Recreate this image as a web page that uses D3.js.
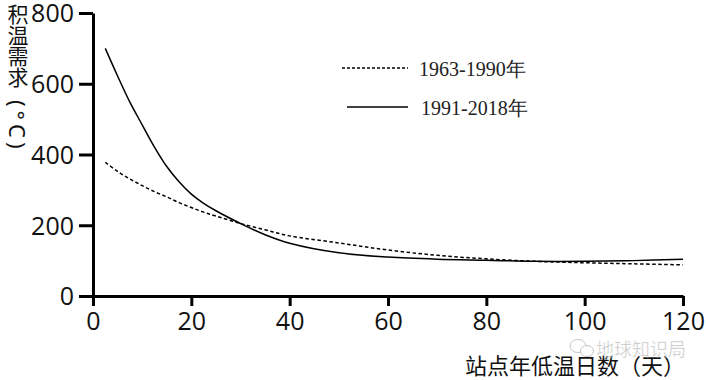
<!DOCTYPE html>
<html>
<head>
<meta charset="utf-8">
<script src="https://cdn.jsdelivr.net/npm/d3@7"></script>
<style>
  body { margin: 0; background: #fff; }
</style>
</head>
<body>
<div id="chart"></div>
<script>
// data
var days = [2.5, 5, 7.5, 10, 12.5, 15, 17.5, 20, 22.5, 25, 30, 35, 40, 50, 60, 70, 80, 90, 100, 110, 120]
var old = [378, 352, 331, 312, 295, 280, 264, 250, 237, 226, 205, 187, 170, 150, 130, 115, 105, 98, 94, 91, 88]
var recent = [700, 622, 548, 484, 421, 366, 323, 288, 262, 241, 205, 173, 149, 122, 110, 104, 101, 98, 98, 100, 104]
var xTicks = [0, 20, 40, 60, 80, 100, 120]
var yTicks = [0, 200, 400, 600, 800]
var seriesNames = ["1963-1990年", "1991-2018年"]

var width = 706
var height = 380

var svg = d3.select('#chart').append('svg')
  .attr('width', width)
  .attr('height', height)

var x = d3.scaleLinear().domain([0, 120]).range([93, 683])
var y = d3.scaleLinear().domain([0, 800]).range([296, 13])

// axes
var xAxis = svg.append('g')
  .attr('transform', 'translate(0,' + y(0) + ')')
  .call(d3.axisBottom(x).tickValues(xTicks).tickSize(10).tickSizeOuter(0).tickPadding(6))
var yAxis = svg.append('g')
  .attr('transform', 'translate(' + x(0) + ',0)')
  .call(d3.axisLeft(y).tickValues(yTicks).tickSize(14).tickSizeOuter(0).tickPadding(5))

svg.selectAll('.domain, .tick line')
  .attr('stroke', '#000')
  .attr('stroke-width', 3)
svg.selectAll('.tick text')
  .style('font-family', '"Open Sans", "Noto Sans", sans-serif')
  .style('font-size', '25px')
  .attr('fill', '#111')
yAxis.selectAll('.tick text').attr('dy', '0.35em')

// lines
var line = d3.line()
  .x((d, i) => x(days[i]))
  .y(d => y(d))
  .curve(d3.curveCatmullRom)

svg.append('path')
  .datum(old)
  .attr('d', line)
  .attr('fill', 'none')
  .attr('stroke', '#000')
  .attr('stroke-width', 1.5)
  .attr('stroke-dasharray', '3.5,2.5')

svg.append('path')
  .datum(recent)
  .attr('d', line)
  .attr('fill', 'none')
  .attr('stroke', '#000')
  .attr('stroke-width', 1.5)

// legend
var legend = svg.append('g')
legend.append('line')
  .attr('x1', 342).attr('x2', 408).attr('y1', 68).attr('y2', 68)
  .attr('stroke', '#000').attr('stroke-width', 1.3)
  .attr('stroke-dasharray', '3,2')
legend.append('line')
  .attr('x1', 347).attr('x2', 408).attr('y1', 107).attr('y2', 107)
  .attr('stroke', '#000').attr('stroke-width', 1.5)
legend.selectAll('text')
  .data(seriesNames)
  .enter()
  .append('text')
  .attr('x', (d, i) => i == 0 ? 419 : 421)
  .attr('y', (d, i) => i == 0 ? 76 : 115)
  .text(d => d)
  .attr('font-family', '"Liberation Serif", "Times New Roman", serif')
  .attr('font-size', 20)
  .attr('fill', '#222')

// y axis title, vertical
svg.append('text')
  .attr('x', 18)
  .attr('y', 4)
  .style('writing-mode', 'vertical-rl')
  .text('积温需求')
  .attr('font-family', '"Noto Sans CJK SC", sans-serif')
  .attr('font-size', 21)
  .attr('fill', '#111')
svg.append('text')
  .attr('transform', 'translate(18,100) rotate(90)')
  .attr('dominant-baseline', 'central')
  .text('(°C)')
  .attr('font-family', '"Noto Sans", sans-serif')
  .attr('font-size', 22)
  .attr('letter-spacing', 4)
  .attr('fill', '#111')

// x axis title
svg.append('text')
  .attr('x', 685)
  .attr('y', 374)
  .attr('text-anchor', 'end')
  .text('站点年低温日数（天）')
  .attr('font-family', '"Noto Sans CJK SC", sans-serif')
  .attr('font-size', 22)
  .attr('fill', '#111')

// watermark
var wm = svg.append('g').attr('opacity', 0.55)
wm.append('ellipse').attr('cx', 578).attr('cy', 346).attr('rx', 8).attr('ry', 6.5)
  .attr('fill', '#fff').attr('stroke', '#999').attr('stroke-width', 1)
wm.append('ellipse').attr('cx', 587).attr('cy', 351).attr('rx', 6.5).attr('ry', 5.5)
  .attr('fill', '#fff').attr('stroke', '#999').attr('stroke-width', 1)
wm.append('text')
  .attr('x', 596)
  .attr('y', 356)
  .text('地球知识局')
  .attr('font-family', '"Noto Sans CJK SC", sans-serif')
  .attr('font-size', 18)
  .attr('fill', '#888')
  .attr('stroke', '#fff')
  .attr('stroke-width', 0.5)
</script>
</body>
</html>
